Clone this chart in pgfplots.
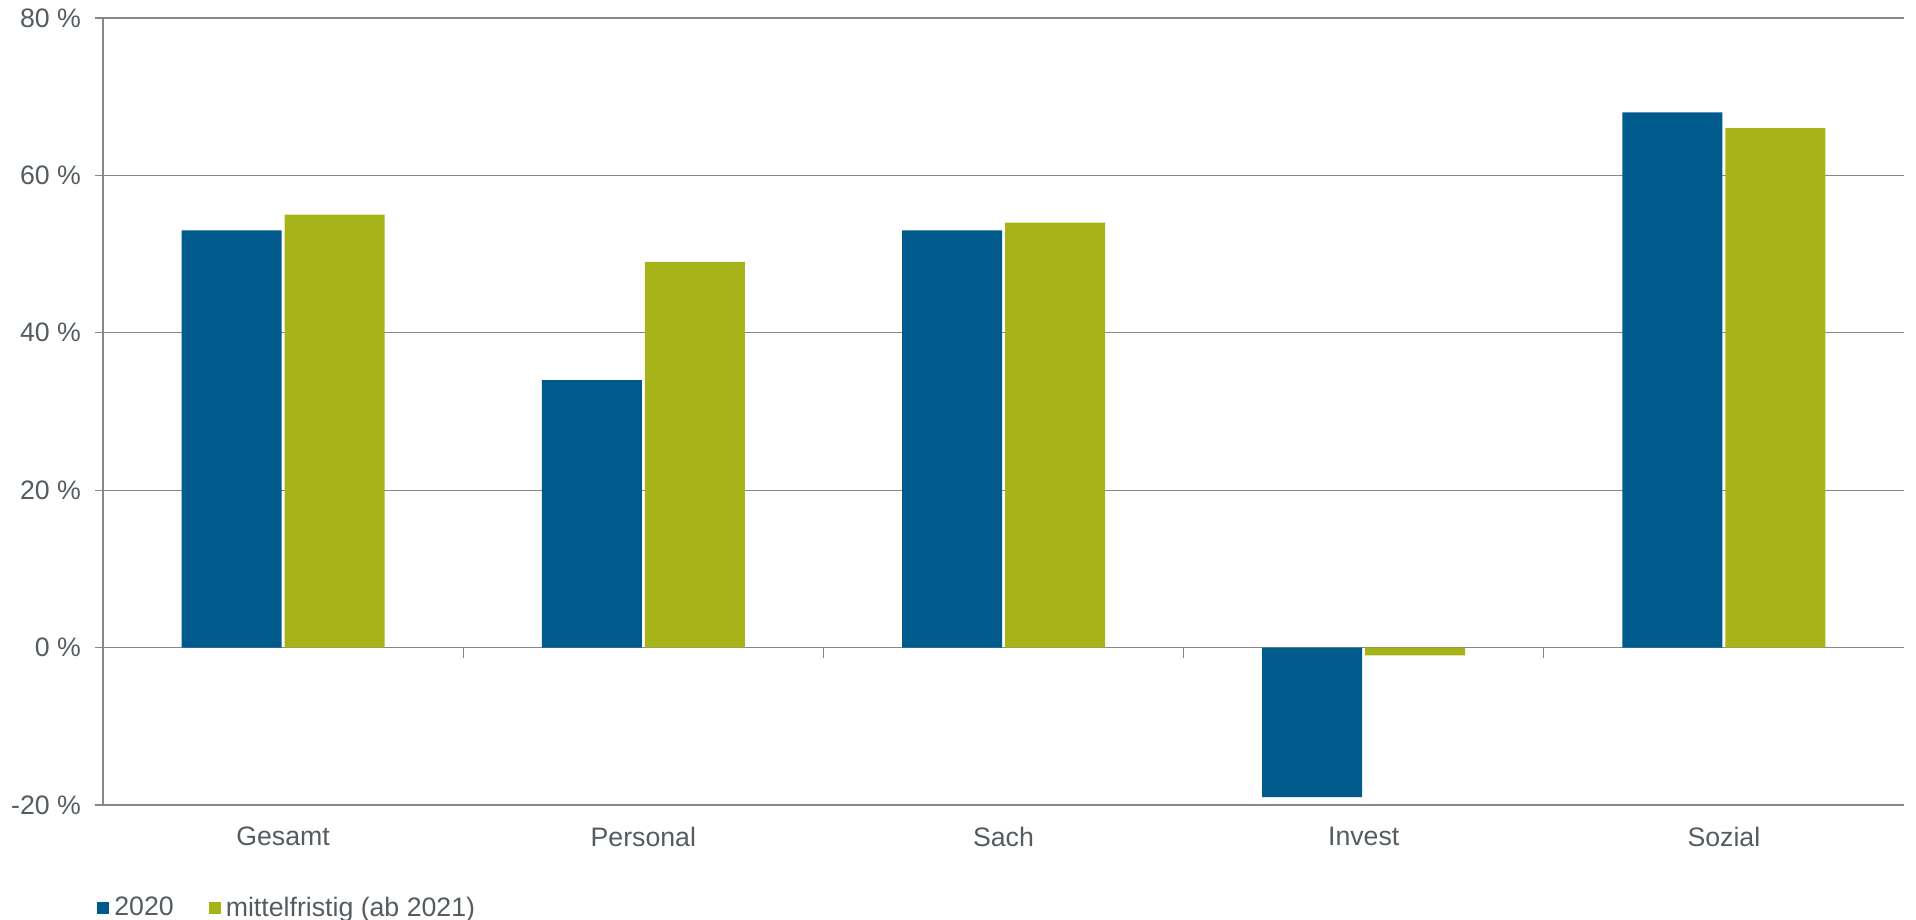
\documentclass[border=0pt]{standalone}
\usepackage{pgfplots}
\pgfplotsset{compat=1.18}
\usepackage{fontspec}
\setmainfont{Liberation Sans}
\definecolor{cblue}{RGB}{0,90,140}
\definecolor{cgreen}{RGB}{166,180,26}
\definecolor{ctext}{RGB}{85,92,97}
\definecolor{cgrid}{RGB}{135,135,135}
\begin{document}
\begin{tikzpicture}
\useasboundingbox (-51.5bp,-57.5bp) rectangle (906.5bp,402.5bp);
\begin{axis}[
  at={(0,0)}, anchor=south west,
  scale only axis, width=900.5bp, height=393.5bp,
  font=\fontsize{13.4}{16}\selectfont,
  ybar=1.5bp, bar width=50bp,
  xmin=-0.5, xmax=4.5, ymin=-20, ymax=80,
  ytick={-20,0,20,40,60,80},
  yticklabel={\pgfmathprintnumber{\tick}~\%},
  /pgf/number format/assume math mode=true,
  xtick={0,1,2,3,4},
  xticklabels={Gesamt,Personal,Sach,Invest,Sozial},
  axis y line=left, axis x line=bottom,
  axis line style={-, draw=cgrid, line width=0.6bp},
  x axis line style={draw=none},
  x tick style={draw=none},
  y tick style={draw=cgrid, line width=0.6bp},
  major tick length=4bp,
  tick align=outside,
  ymajorgrids, grid style={draw=cgrid, line width=0.6bp},
  ticklabel style={text=ctext},
  yticklabel style={xshift=-3.5bp},
  xticklabel style={yshift=-3.5bp},
  legend columns=2,
  legend style={at={(0,0)}, anchor=west, xshift=-3bp, yshift=-51.5bp, draw=none, fill=none,
    font=\fontsize{13.4}{16}\selectfont, text=ctext, inner xsep=0pt,
    /tikz/every even column/.append style={column sep=15bp},
    nodes={inner xsep=2.5bp}},
  legend image code/.code={\fill[#1] (0bp,-3bp) rectangle (6bp,3bp);},
  legend cell align=left,
  clip=false,
]
\addplot[fill=cblue, draw=none] coordinates {(0,53) (1,34) (2,53) (3,-19) (4,68)};
\addplot[fill=cgreen, draw=none] coordinates {(0,55) (1,49) (2,54) (3,-1) (4,66)};
\legend{2020, mittelfristig (ab 2021)}
\foreach \x in {0.5,1.5,2.5,3.5} {
  \edef\tmp{\noexpand\draw[cgrid, line width=0.6bp] (axis cs:\x,0) -- ([yshift=-5bp]axis cs:\x,0);}\tmp
}
\end{axis}
\end{tikzpicture}
\end{document}
